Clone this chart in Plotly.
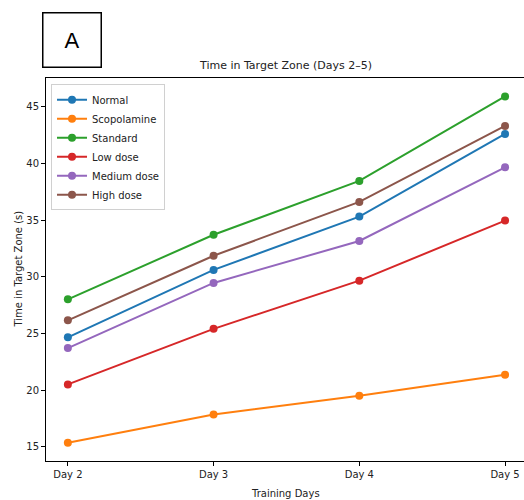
import plotly.graph_objects as go

days = ["Day 2", "Day 3", "Day 4", "Day 5"]
series_names = ["Normal", "Scopolamine", "Standard", "Low dose", "Medium dose", "High dose"]
normal = [24.65, 30.6, 35.3, 42.6]
scopolamine = [15.35, 17.85, 19.5, 21.35]
standard = [28.0, 33.7, 38.45, 45.9]
low_dose = [20.5, 25.4, 29.65, 34.95]
medium_dose = [23.7, 29.45, 33.15, 39.65]
high_dose = [26.15, 31.85, 36.6, 43.3]
y_ticks = [15, 20, 25, 30, 35, 40, 45]

colors = ["#1f77b4", "#ff7f0e", "#2ca02c", "#d62728", "#9467bd", "#8c564b"]
all_values = [normal, scopolamine, standard, low_dose, medium_dose, high_dose]

fig = go.Figure()
for name, vals, c in zip(series_names, all_values, colors):
    fig.add_trace(go.Scatter(
        x=days, y=vals, name=name, mode="lines+markers",
        line=dict(color=c, width=2),
        marker=dict(color=c, size=8),
    ))

font_family = "DejaVu Sans"
fig.update_layout(
    width=524, height=500,
    margin=dict(l=46, r=0, t=78, b=39),
    paper_bgcolor="white", plot_bgcolor="white",
    font=dict(family=font_family, size=10, color="#222"),
    showlegend=True,
    legend=dict(
        x=0.0105, y=0.984, xanchor="left", yanchor="top",
        bgcolor="rgba(255,255,255,0.8)", bordercolor="#d0d0d0", borderwidth=1,
        font=dict(family=font_family, size=10, color="#222"),
        tracegroupgap=0, itemwidth=30,
    ),
    xaxis=dict(
        type="category", range=[-0.15, 3.13], automargin=False,
        showline=True, linecolor="black", linewidth=1, mirror=True,
        ticks="outside", ticklen=4, tickcolor="black",
        showgrid=False, zeroline=False,
        tickfont=dict(size=10),
    ),
    yaxis=dict(
        range=[13.74, 47.53], tickvals=y_ticks, automargin=False,
        showline=True, linecolor="black", linewidth=1, mirror=False,
        ticks="outside", ticklen=4, tickcolor="black",
        showgrid=False, zeroline=False,
        tickfont=dict(size=10),
    ),
    annotations=[
        dict(text="Time in Target Zone (Days 2–5)", xref="paper", yref="paper",
             x=0.5, y=1, xanchor="center", yanchor="bottom", yshift=4,
             showarrow=False, font=dict(size=11, family=font_family, color="#222")),
        dict(text="Training Days", xref="paper", yref="paper",
             x=0.5, y=0, xanchor="center", yanchor="top", yshift=-25,
             showarrow=False, font=dict(size=10, family=font_family, color="#222")),
        dict(text="Time in Target Zone (s)", xref="paper", yref="paper",
             x=0, y=0.5, xanchor="center", yanchor="middle", xshift=-28,
             textangle=-90, showarrow=False,
             font=dict(size=10, family=font_family, color="#222")),
        dict(text="A", xref="paper", yref="paper",
             x=0, y=1, xanchor="left", yanchor="bottom", xshift=-4, yshift=10,
             width=57, height=53, showarrow=False,
             bordercolor="black", borderwidth=1.5, borderpad=0,
             font=dict(size=22, family="Liberation Sans", color="black")),
    ],
)

fig.write_html(
    "out.html",
    config={"displayModeBar": False},
    post_script="document.body.style.margin='0';document.body.style.overflow='hidden';",
)
